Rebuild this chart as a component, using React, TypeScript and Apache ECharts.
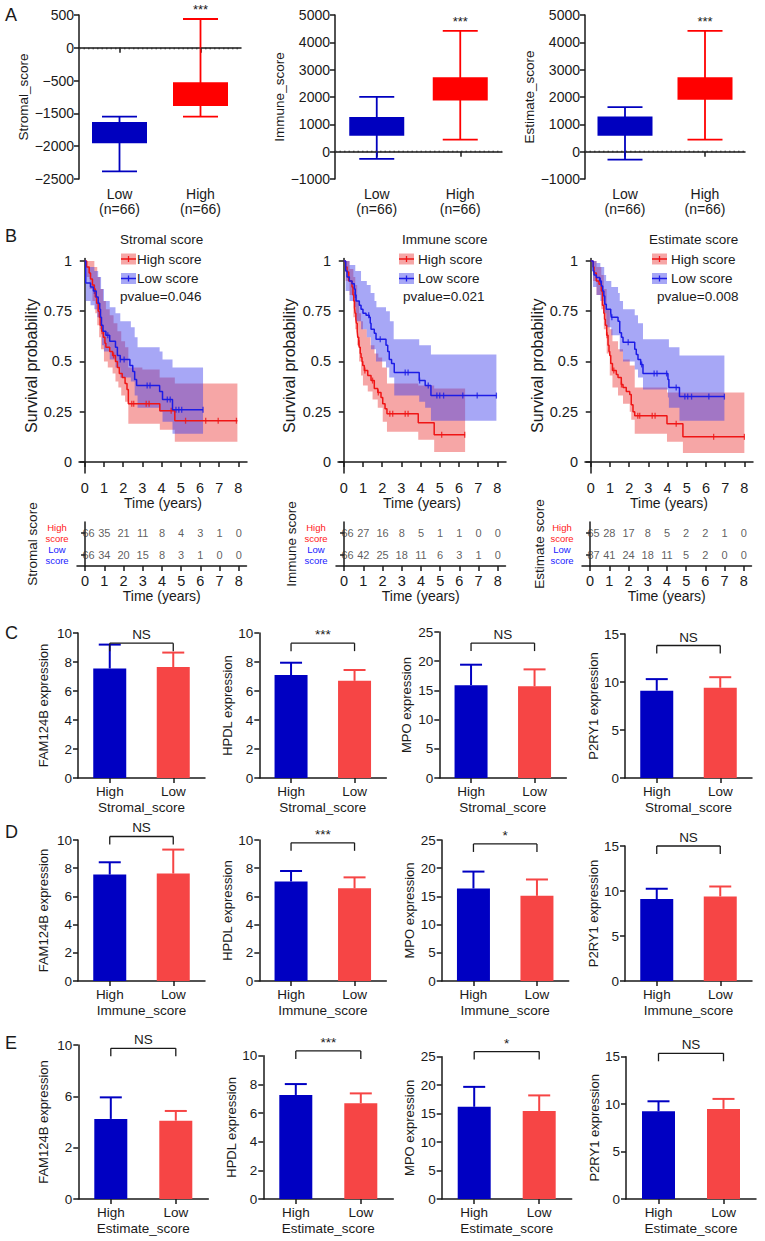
import React, { useEffect, useRef } from "react";
import * as echarts from "echarts";

const FONT = "'Liberation Sans', Arial, Helvetica, sans-serif";
const INK = "#1a1a1a";
const BOX_BLUE = "#0000bf";
const BOX_RED = "#ff0000";
const KM_RED = "#ef1515";
const KM_BLUE = "#1c1ce6";
const BAND_RED = "rgba(235,60,60,0.46)";
const BAND_BLUE = "rgba(60,60,235,0.45)";
const BAR_BLUE = "#0000c2";
const BAR_RED = "#f64545";

// ---------------- Panel A : box plots ----------------
const boxGroups = ["Low\n(n=66)", "High\n(n=66)"];
const boxTitles = ["Stromal_score", "Immune_score", "Estimate_score"];
// [whisker min, Q1, Q3, whisker max]
const stromalLow = [-1883, -1455, -1132, -1050];
const stromalHigh = [-1050, -889, -525, 439];
const immuneLow = [-266, 584, 1266, 2007];
const immuneHigh = [438, 1872, 2726, 4416];
const estimateLow = [-292, 584, 1288, 1631];
const estimateHigh = [438, 1898, 2726, 4416];
const stromalTickLabels = ["500", "0", "\u2212500", "\u22121500", "\u22122000", "\u22122500"]; // as printed, top to bottom
const boxSig = ["***", "***", "***"];

// ---------------- Panel B : Kaplan-Meier ----------------
const kmTitles = ["Stromal score", "Immune score", "Estimate score"];
const kmPvalues = ["pvalue=0.046", "pvalue=0.021", "pvalue=0.008"];
const kmLegend = ["High score", "Low score"];
const kmTicksX = [0, 1, 2, 3, 4, 5, 6, 7, 8];
const kmTicksY = [0, 0.25, 0.5, 0.75, 1];

const stromalHighCurve = [[0, 1], [0.1, 0.97], [0.23, 0.94], [0.3, 0.91], [0.4, 0.88], [0.5, 0.86], [0.55, 0.82], [0.62, 0.79], [0.7, 0.75], [0.76, 0.72], [0.8, 0.68], [0.88, 0.65], [0.97, 0.62], [1.05, 0.59], [1.1, 0.57], [1.3, 0.55], [1.45, 0.53], [1.6, 0.5], [1.7, 0.47], [1.8, 0.44], [1.95, 0.42], [2.1, 0.39], [2.2, 0.36], [2.27, 0.29], [3.91, 0.255], [4.69, 0.205], [7.95, 0.205]];
const stromalLowCurve = [[0, 1], [0.05, 0.89], [0.3, 0.87], [0.45, 0.85], [0.6, 0.82], [0.7, 0.79], [0.78, 0.76], [0.82, 0.72], [0.87, 0.68], [0.95, 0.65], [1.1, 0.63], [1.3, 0.6], [1.6, 0.57], [1.7, 0.53], [1.85, 0.51], [2.35, 0.48], [2.5, 0.45], [2.6, 0.41], [2.7, 0.38], [3.9, 0.35], [4.05, 0.31], [4.57, 0.26], [6.16, 0.26]];
const stromalHighUpper = [[0, 1], [0.5, 0.97], [0.65, 0.92], [0.8, 0.86], [0.95, 0.8], [1.1, 0.76], [1.3, 0.73], [1.5, 0.69], [1.7, 0.65], [1.9, 0.6], [2.1, 0.57], [2.27, 0.47], [3.0, 0.46], [3.9, 0.42], [4.69, 0.39], [7.95, 0.39]];
const stromalHighLower = [[0, 1], [0.1, 0.92], [0.25, 0.86], [0.4, 0.8], [0.55, 0.74], [0.65, 0.68], [0.75, 0.62], [0.85, 0.56], [1.0, 0.5], [1.2, 0.47], [1.45, 0.44], [1.6, 0.4], [1.75, 0.37], [1.9, 0.33], [2.1, 0.3], [2.27, 0.19], [3.91, 0.16], [4.69, 0.1], [7.95, 0.1]];
const stromalLowUpper = [[0, 1], [0.05, 0.97], [0.5, 0.95], [0.7, 0.92], [0.85, 0.86], [1.0, 0.8], [1.3, 0.77], [1.6, 0.74], [1.85, 0.7], [2.4, 0.67], [2.6, 0.62], [2.75, 0.57], [3.9, 0.55], [4.05, 0.51], [4.57, 0.47], [6.16, 0.47]];
const stromalLowLower = [[0, 1], [0.05, 0.8], [0.3, 0.78], [0.5, 0.76], [0.65, 0.72], [0.8, 0.66], [0.9, 0.58], [1.0, 0.55], [1.3, 0.51], [1.6, 0.47], [1.85, 0.42], [2.4, 0.4], [2.6, 0.33], [2.75, 0.27], [3.9, 0.25], [4.05, 0.2], [4.57, 0.14], [6.16, 0.14]];
const stromalHighCensor = [0.9, 1.5, 2.45, 2.55, 3.2, 3.35, 4.5, 5.25, 6.3, 6.95, 7.9];
const stromalLowCensor = [0.5, 1.2, 1.85, 2.05, 3.25, 3.4, 4.3, 4.45, 4.75, 4.9, 5.05, 6.16];

const immuneHighCurve = [[0, 1], [0.09, 0.97], [0.17, 0.945], [0.26, 0.9], [0.43, 0.87], [0.48, 0.83], [0.52, 0.8], [0.56, 0.77], [0.59, 0.74], [0.63, 0.71], [0.66, 0.69], [0.7, 0.65], [0.73, 0.62], [0.78, 0.59], [0.81, 0.57], [0.86, 0.54], [0.9, 0.52], [0.95, 0.5], [0.99, 0.48], [1.07, 0.455], [1.25, 0.43], [1.42, 0.405], [1.59, 0.365], [1.77, 0.345], [1.94, 0.32], [2.03, 0.29], [2.15, 0.265], [2.25, 0.24], [3.88, 0.195], [4.71, 0.135], [6.32, 0.135]];
const immuneLowCurve = [[0, 1], [0.1, 0.95], [0.17, 0.92], [0.29, 0.9], [0.43, 0.887], [0.55, 0.86], [0.6, 0.83], [0.64, 0.8], [0.81, 0.78], [0.9, 0.76], [1.0, 0.74], [1.16, 0.73], [1.33, 0.72], [1.38, 0.69], [1.42, 0.66], [1.59, 0.64], [1.68, 0.61], [2.2, 0.58], [2.29, 0.55], [2.37, 0.51], [2.49, 0.49], [2.63, 0.445], [3.93, 0.405], [4.24, 0.38], [4.54, 0.33], [7.95, 0.33]];
const immuneHighUpper = [[0, 1], [0.3, 0.96], [0.5, 0.92], [0.6, 0.88], [0.7, 0.8], [0.8, 0.74], [0.9, 0.7], [1.0, 0.66], [1.2, 0.62], [1.4, 0.58], [1.6, 0.54], [1.8, 0.52], [2.0, 0.47], [2.25, 0.39], [3.88, 0.38], [4.71, 0.365], [6.32, 0.365]];
const immuneHighLower = [[0, 1], [0.1, 0.9], [0.3, 0.83], [0.5, 0.72], [0.6, 0.66], [0.7, 0.58], [0.8, 0.5], [0.9, 0.43], [1.0, 0.38], [1.25, 0.35], [1.5, 0.31], [1.77, 0.27], [2.03, 0.2], [2.25, 0.15], [3.88, 0.11], [4.71, 0.05], [6.32, 0.05]];
const immuneLowUpper = [[0, 1], [0.3, 0.98], [0.6, 0.95], [0.9, 0.9], [1.2, 0.88], [1.4, 0.84], [1.6, 0.8], [1.7, 0.77], [2.2, 0.75], [2.4, 0.7], [2.6, 0.61], [3.93, 0.58], [4.54, 0.535], [7.95, 0.535]];
const immuneLowLower = [[0, 1], [0.1, 0.85], [0.3, 0.8], [0.55, 0.77], [0.64, 0.7], [0.9, 0.66], [1.2, 0.62], [1.42, 0.56], [1.68, 0.5], [2.2, 0.47], [2.37, 0.42], [2.63, 0.33], [3.93, 0.3], [4.24, 0.27], [4.54, 0.205], [7.95, 0.205]];
const immuneHighCensor = [0.8, 1.1, 1.5, 1.8, 2.4, 2.55, 3.2, 3.35, 5.1, 6.3];
const immuneLowCensor = [0.6, 1.3, 1.9, 3.2, 3.35, 3.95, 4.4, 4.85, 5.0, 5.2, 6.2, 6.95, 7.95];

const estimateHighCurve = [[0, 1], [0.12, 0.97], [0.17, 0.94], [0.29, 0.9], [0.43, 0.884], [0.55, 0.85], [0.61, 0.78], [0.68, 0.74], [0.72, 0.71], [0.76, 0.68], [0.83, 0.63], [0.9, 0.58], [0.95, 0.55], [0.99, 0.53], [1.04, 0.49], [1.13, 0.455], [1.33, 0.435], [1.42, 0.42], [1.59, 0.385], [1.68, 0.37], [1.85, 0.35], [2.03, 0.335], [2.11, 0.285], [2.2, 0.25], [2.29, 0.23], [3.97, 0.19], [4.8, 0.125], [8.0, 0.125]];
const estimateLowCurve = [[0, 1], [0.12, 0.95], [0.17, 0.93], [0.29, 0.917], [0.47, 0.9], [0.55, 0.875], [0.62, 0.85], [0.68, 0.826], [0.73, 0.784], [0.81, 0.76], [1.04, 0.743], [1.07, 0.72], [1.42, 0.7], [1.51, 0.643], [1.6, 0.62], [1.68, 0.595], [2.29, 0.56], [2.37, 0.535], [2.46, 0.51], [2.6, 0.485], [2.72, 0.44], [4.02, 0.41], [4.07, 0.37], [4.62, 0.325], [6.96, 0.325]];
const estimateHighUpper = [[0, 1], [0.3, 0.97], [0.55, 0.93], [0.68, 0.86], [0.83, 0.76], [0.99, 0.66], [1.13, 0.6], [1.42, 0.56], [1.68, 0.51], [2.03, 0.48], [2.29, 0.37], [3.97, 0.345], [8.0, 0.345]];
const estimateHighLower = [[0, 1], [0.12, 0.9], [0.3, 0.83], [0.55, 0.76], [0.68, 0.66], [0.83, 0.54], [0.99, 0.43], [1.13, 0.37], [1.42, 0.33], [1.68, 0.29], [2.03, 0.25], [2.11, 0.21], [2.29, 0.14], [3.97, 0.1], [4.8, 0.045], [8.0, 0.045]];
const estimateLowUpper = [[0, 1], [0.3, 0.99], [0.5, 0.97], [0.7, 0.93], [0.8, 0.9], [1.07, 0.87], [1.42, 0.84], [1.51, 0.8], [1.68, 0.76], [2.29, 0.73], [2.46, 0.69], [2.72, 0.61], [4.07, 0.57], [4.62, 0.53], [6.96, 0.53]];
const estimateLowLower = [[0, 1], [0.12, 0.87], [0.3, 0.83], [0.5, 0.8], [0.68, 0.74], [0.81, 0.67], [1.07, 0.63], [1.51, 0.55], [1.68, 0.5], [2.29, 0.46], [2.46, 0.42], [2.72, 0.36], [4.02, 0.32], [4.07, 0.27], [4.62, 0.205], [6.96, 0.205]];
const estimateHighCensor = [0.85, 1.2, 1.6, 2.45, 2.55, 3.2, 3.35, 4.45, 6.4, 8.0];
const estimateLowCensor = [0.5, 1.1, 1.95, 2.65, 3.3, 3.45, 3.95, 4.45, 4.9, 5.05, 5.25, 6.15, 6.96];

// ---------------- Number-at-risk tables ----------------
const riskTimes = [0, 1, 2, 3, 4, 5, 6, 7, 8];
const riskRows = ["Low", "High"];
const stromalRiskHigh = [66, 35, 21, 11, 8, 4, 3, 1, 0];
const stromalRiskLow = [66, 34, 20, 15, 8, 3, 1, 0, 0];
const immuneRiskHigh = [66, 27, 16, 8, 5, 1, 1, 0, 0];
const immuneRiskLow = [66, 42, 25, 18, 11, 6, 3, 1, 0];
const estimateRiskHigh = [65, 28, 17, 8, 5, 2, 2, 1, 0];
const estimateRiskLow = [87, 41, 24, 18, 11, 5, 2, 0, 0];

// ---------------- Panels C, D, E : bar charts ----------------
const genes = ["FAM124B", "HPDL", "MPO", "P2RY1"];
const barGroups = ["High", "Low"];
const rowScores = ["Stromal_score", "Immune_score", "Estimate_score"];
const geneAxisMax = [10, 10, 25, 15];
const geneAxisStep = [2, 2, 5, 5];
const eFamTickLabels = ["0", "2", "6", "10"]; // as printed on panel E FAM124B axis
// means [High, Low] and error (SD) [High, Low]
const cMeans = [[7.55, 7.65], [7.1, 6.7], [15.9, 15.7], [9.1, 9.4]];
const cErrs = [[1.65, 1.0], [0.85, 0.75], [3.5, 2.9], [1.2, 1.1]];
const cSig = ["NS", "***", "NS", "NS"];
const cBracket = [9.3, 9.3, 23.1, 13.8];
const dMeans = [[7.55, 7.62], [7.06, 6.57], [16.4, 15.1], [9.1, 9.4]];
const dErrs = [[0.87, 1.7], [0.74, 0.78], [3.0, 2.9], [1.15, 1.1]];
const dSig = ["NS", "***", "*", "NS"];
const dBracket = [10.25, 9.8, 24.3, 15.0];
const eMeans = [[3.12, 3.05], [7.26, 6.68], [16.2, 15.45], [9.25, 9.5]];
const eErrs = [[0.84, 0.38], [0.76, 0.69], [3.5, 2.75], [1.05, 1.05]];
const eSig = ["NS", "***", "*", "NS"];
const eBracket = [5.87, 10.33, 25.9, 15.36];

function stepAt(curve: number[][], t: number) {
  let s = curve[0][1];
  for (const p of curve) {
    if (p[0] <= t) s = p[1];
    else break;
  }
  return s;
}

function bandPoints(api: any, upper: number[][], lower: number[][]) {
  const pts: number[][] = [];
  for (let i = 0; i < upper.length; i++) {
    if (i > 0) pts.push(api.coord([upper[i][0], upper[i - 1][1]]));
    pts.push(api.coord([upper[i][0], upper[i][1]]));
  }
  for (let i = lower.length - 1; i >= 0; i--) {
    pts.push(api.coord([lower[i][0], lower[i][1]]));
    if (i > 0) pts.push(api.coord([lower[i][0], lower[i - 1][1]]));
  }
  return pts;
}

function buildOption() {
  const grid: any[] = [];
  const xAxis: any[] = [];
  const yAxis: any[] = [];
  const series: any[] = [];
  const graphic: any[] = [];
  const add = (g: any, x: any, y: any) => {
    const i = grid.length;
    grid.push({ outerBoundsMode: "none", containLabel: false, ...g });
    xAxis.push({ gridIndex: i, ...x });
    yAxis.push({ gridIndex: i, ...y });
    return i;
  };
  const axLine = { show: true, lineStyle: { color: INK, width: 1.5 } };
  const tick = (len: number) => ({ show: true, inside: false, length: len, lineStyle: { color: INK, width: 1.5 } });
  const lbl = (size: number, margin: number) => ({ color: INK, fontSize: size, fontFamily: FONT, margin });
  const nameStyle = (size: number) => ({ color: INK, fontSize: size, fontFamily: FONT });
  const txt = (text: string, x: number, y: number, size: number, color = INK, align = "left") => ({
    type: "text",
    x,
    y,
    silent: true,
    style: { text, fontSize: size, fontFamily: FONT, fill: color, align, verticalAlign: "middle" },
  });

  // Panel letters
  graphic.push(txt("A", 5, 15, 18));
  graphic.push(txt("B", 5, 236, 18));
  graphic.push(txt("C", 5, 633, 18));
  graphic.push(txt("D", 5, 832, 18));
  graphic.push(txt("E", 5, 1043, 18));

  // ---------- A ----------
  const boxSets = [[stromalLow, stromalHigh], [immuneLow, immuneHigh], [estimateLow, estimateHigh]];
  const boxLayout = [
    { left: 79, width: 162, gap: 44 },
    { left: 335, width: 167, gap: 43 },
    { left: 585, width: 160, gap: 45 },
  ];
  boxSets.forEach((set, k) => {
    const L = boxLayout[k];
    const stromal = k === 0;
    const i = add(
      { left: L.left, top: 15, width: L.width, height: 164 },
      {
        type: "category",
        data: boxGroups,
        axisLine: axLine,
        axisTick: { ...tick(5), alignWithLabel: true },
        axisLabel: { ...lbl(14, 7), lineHeight: 15.5 },
      },
      {
        type: "value",
        min: stromal ? -2000 : -1000,
        max: stromal ? 500 : 5000,
        interval: stromal ? 500 : 1000,
        name: boxTitles[k],
        nameLocation: "middle",
        nameGap: L.gap,
        nameTextStyle: nameStyle(13.5),
        axisLine: axLine,
        axisTick: tick(5),
        splitLine: { show: false },
        axisLabel: {
          ...lbl(14, 5),
          formatter: (v: number) =>
            stromal ? stromalTickLabels[Math.round((500 - v) / 500)] : v < 0 ? "\u2212" + Math.abs(v) : String(v),
        },
      }
    );
    const sig = boxSig[k];
    series.push({
      type: "custom",
      xAxisIndex: i,
      yAxisIndex: i,
      clip: false,
      data: set.map((v, c) => [c, v[0], v[1], v[2], v[3]]),
      encode: { x: 0, y: [1, 2, 3, 4] },
      renderItem: (params: any, api: any) => {
        const c = api.value(0);
        const color = c === 0 ? BOX_BLUE : BOX_RED;
        const pMin = api.coord([c, api.value(1)]);
        const pQ1 = api.coord([c, api.value(2)]);
        const pQ3 = api.coord([c, api.value(3)]);
        const pMax = api.coord([c, api.value(4)]);
        const bw = 55;
        const cw = 35;
        const st = { stroke: color, lineWidth: 1.8 };
        const children: any[] = [
          { type: "line", shape: { x1: pMin[0], y1: pMin[1], x2: pMax[0], y2: pMax[1] }, style: st },
          { type: "line", shape: { x1: pMin[0] - cw / 2, y1: pMin[1], x2: pMin[0] + cw / 2, y2: pMin[1] }, style: st },
          { type: "line", shape: { x1: pMax[0] - cw / 2, y1: pMax[1], x2: pMax[0] + cw / 2, y2: pMax[1] }, style: st },
          { type: "rect", shape: { x: pQ3[0] - bw / 2, y: pQ3[1], width: bw, height: pQ1[1] - pQ3[1] }, style: { fill: color } },
        ];
        if (c === 1) {
          children.push({
            type: "text",
            x: pMax[0],
            y: pMax[1] - 3,
            style: { text: sig, fontSize: 13, fontFamily: FONT, fill: INK, align: "center", verticalAlign: "bottom" },
          });
        }
        return { type: "group", children };
      },
      markLine: {
        silent: true,
        symbol: "none",
        label: { show: false },
        lineStyle: { color: "#333", width: 1.3, type: [1.5, 3] },
        data: [{ yAxis: 0 }],
      },
    });
  });

  // ---------- B : KM ----------
  const kmSets = [
    { hc: stromalHighCurve, lc: stromalLowCurve, hu: stromalHighUpper, hl: stromalHighLower, lu: stromalLowUpper, ll: stromalLowLower, hcen: stromalHighCensor, lcen: stromalLowCensor },
    { hc: immuneHighCurve, lc: immuneLowCurve, hu: immuneHighUpper, hl: immuneHighLower, lu: immuneLowUpper, ll: immuneLowLower, hcen: immuneHighCensor, lcen: immuneLowCensor },
    { hc: estimateHighCurve, lc: estimateLowCurve, hu: estimateHighUpper, hl: estimateHighLower, lu: estimateLowUpper, ll: estimateLowLower, hcen: estimateHighCensor, lcen: estimateLowCensor },
  ];
  const kmLayout = [
    { left: 79, gap: 38, titleX: 120, keyX: 121, textX: 137, pX: 120 },
    { left: 338, gap: 41, titleX: 402, keyX: 399, textX: 418, pX: 403 },
    { left: 585, gap: 38, titleX: 649, keyX: 652, textX: 671, pX: 657 },
  ];
  kmSets.forEach((s, k) => {
    const L = kmLayout[k];
    const i = add(
      { left: L.left, top: 258.5, width: 168, height: 214.5 },
      {
        type: "value",
        min: -0.3,
        max: 8.45,
        axisLine: axLine,
        axisTick: { ...tick(5), customValues: kmTicksX },
        axisLabel: { ...lbl(14.5, 7), customValues: kmTicksX },
        splitLine: { show: false },
        name: "Time (years)",
        nameLocation: "middle",
        nameGap: 22,
        nameTextStyle: nameStyle(14),
      },
      {
        type: "value",
        min: -0.055,
        max: 1.012,
        axisLine: axLine,
        axisTick: { ...tick(5), customValues: kmTicksY },
        axisLabel: { ...lbl(14.5, 7), customValues: kmTicksY, formatter: (v: number) => String(v) },
        splitLine: { show: false },
        name: "Survival probability",
        nameLocation: "middle",
        nameGap: L.gap,
        nameTextStyle: nameStyle(16),
      }
    );
    const band = (up: number[][], lo: number[][], fill: string) => ({
      type: "custom",
      xAxisIndex: i,
      yAxisIndex: i,
      silent: true,
      data: [[0, 0]],
      renderItem: (p: any, api: any) => ({ type: "polygon", shape: { points: bandPoints(api, up, lo) }, style: { fill } }),
    });
    series.push(band(s.hu, s.hl, BAND_RED));
    series.push(band(s.lu, s.ll, BAND_BLUE));
    const curve = (data: number[][], color: string) => ({
      type: "line",
      xAxisIndex: i,
      yAxisIndex: i,
      step: "end",
      symbol: "none",
      silent: true,
      data,
      lineStyle: { color, width: 1.5 },
    });
    series.push(curve(s.hc, KM_RED));
    series.push(curve(s.lc, KM_BLUE));
    const cens = (times: number[], c: number[][], color: string) => ({
      type: "scatter",
      xAxisIndex: i,
      yAxisIndex: i,
      silent: true,
      symbol: "rect",
      symbolSize: [1.3, 6],
      itemStyle: { color },
      data: times.map((t) => [t, stepAt(c, t)]),
    });
    series.push(cens(s.hcen, s.hc, KM_RED));
    series.push(cens(s.lcen, s.lc, KM_BLUE));

    // legend
    graphic.push(txt(kmTitles[k], L.titleX, 239.5, 13.5));
    const rows = [
      { y: 259, band: BAND_RED, line: KM_RED, label: kmLegend[0] },
      { y: 278.5, band: BAND_BLUE, line: KM_BLUE, label: kmLegend[1] },
    ];
    rows.forEach((r) => {
      graphic.push({ type: "rect", silent: true, shape: { x: L.keyX, y: r.y - 5.5, width: 15, height: 11 }, style: { fill: r.band } });
      graphic.push({ type: "line", silent: true, shape: { x1: L.keyX, y1: r.y, x2: L.keyX + 15, y2: r.y }, style: { stroke: r.line, lineWidth: 1.5 } });
      graphic.push({ type: "line", silent: true, shape: { x1: L.keyX + 7.5, y1: r.y - 3, x2: L.keyX + 7.5, y2: r.y + 3 }, style: { stroke: r.line, lineWidth: 1.3 } });
      graphic.push(txt(r.label, L.textX, r.y, 13.5));
    });
    graphic.push(txt(kmPvalues[k], L.pX, 296.5, 13.5));
  });

  // ---------- risk tables ----------
  const riskSets = [
    [stromalRiskHigh, stromalRiskLow],
    [immuneRiskHigh, immuneRiskLow],
    [estimateRiskHigh, estimateRiskLow],
  ];
  const riskLayout = [
    { left: 77, gap: 38 },
    { left: 336, gap: 38 },
    { left: 582, gap: 35 },
  ];
  riskSets.forEach((set, k) => {
    const L = riskLayout[k];
    const i = add(
      { left: L.left, top: 522, width: 169.5, height: 44 },
      {
        type: "value",
        min: -0.42,
        max: 8.4,
        axisLine: axLine,
        axisTick: { ...tick(5), customValues: riskTimes },
        axisLabel: { ...lbl(14.5, 7), customValues: riskTimes },
        splitLine: { show: false },
        name: "Time (years)",
        nameLocation: "middle",
        nameGap: 22,
        nameTextStyle: nameStyle(14),
      },
      {
        type: "category",
        data: riskRows,
        axisLine: axLine,
        axisTick: { ...tick(4), alignWithLabel: true },
        axisLabel: {
          margin: 20,
          align: "center",
          formatter: (v: string) => (v === "High" ? "{h|High}\n{h|score}" : "{l|Low}\n{l|score}"),
          rich: {
            h: { color: "#ff2020", fontSize: 9.5, lineHeight: 11, fontFamily: FONT, align: "center" },
            l: { color: "#2020ff", fontSize: 9.5, lineHeight: 11, fontFamily: FONT, align: "center" },
          },
        },
        name: kmTitles[k],
        nameLocation: "middle",
        nameGap: L.gap,
        nameTextStyle: nameStyle(13.5),
      }
    );
    const row = (vals: number[], cat: string) => ({
      type: "scatter",
      xAxisIndex: i,
      yAxisIndex: i,
      silent: true,
      symbolSize: 1,
      itemStyle: { color: "rgba(0,0,0,0)" },
      label: { show: true, position: "inside", formatter: (p: any) => String(p.value[2]), fontSize: 11, fontFamily: FONT, color: "#333" },
      data: riskTimes.map((t, j) =>
        j === 0 ? { value: [t, cat, vals[j]], label: { offset: [3.5, 0] } } : { value: [t, cat, vals[j]] }
      ),
    });
    series.push(row(set[0], "High"));
    series.push(row(set[1], "Low"));
  });

  // ---------- C, D, E ----------
  const rowsData = [
    { means: cMeans, errs: cErrs, sig: cSig, br: cBracket },
    { means: dMeans, errs: dErrs, sig: dSig, br: dBracket },
    { means: eMeans, errs: eErrs, sig: eSig, br: eBracket },
  ];
  const rowLayout = [
    { tops: [633, 633, 632, 634], bottom: 778, lefts: [78, 259.3, 439.3, 625], width: 127 },
    { tops: [840, 840, 840, 846], bottom: 981, lefts: [78, 259.3, 441.7, 625], width: 127 },
    { tops: [1045, 1055.7, 1056.7, 1056.7], bottom: 1199, lefts: [78.3, 263.3, 441.7, 626], width: 130 },
  ];
  const nameGaps = [28, 23, 26, 25];
  rowsData.forEach((R, r) => {
    const RL = rowLayout[r];
    genes.forEach((g, gi) => {
      const eFam = r === 2 && gi === 0;
      const i = add(
        { left: RL.lefts[gi], top: RL.tops[gi], width: RL.width, height: RL.bottom - RL.tops[gi] },
        {
          type: "category",
          data: barGroups,
          axisLine: axLine,
          axisTick: { ...tick(5), alignWithLabel: true },
          axisLabel: lbl(13.5, 6),
          name: rowScores[r],
          nameLocation: "middle",
          nameGap: 22,
          nameTextStyle: nameStyle(13.5),
        },
        {
          type: "value",
          min: 0,
          max: eFam ? 6 : geneAxisMax[gi],
          interval: eFam ? 2 : geneAxisStep[gi],
          axisLine: axLine,
          axisTick: tick(5),
          splitLine: { show: false },
          axisLabel: { ...lbl(13.5, 6), formatter: (v: number) => (eFam ? eFamTickLabels[Math.round(v / 2)] : String(v)) },
          name: g + " expression",
          nameLocation: "middle",
          nameGap: nameGaps[gi],
          nameTextStyle: nameStyle(13),
        }
      );
      const m = R.means[gi];
      const e = R.errs[gi];
      series.push({
        type: "bar",
        xAxisIndex: i,
        yAxisIndex: i,
        silent: true,
        barWidth: 33,
        data: [
          { value: m[0], itemStyle: { color: BAR_BLUE } },
          { value: m[1], itemStyle: { color: BAR_RED } },
        ],
      });
      series.push({
        type: "custom",
        xAxisIndex: i,
        yAxisIndex: i,
        silent: true,
        clip: false,
        data: [[0, m[0], e[0]], [1, m[1], e[1]]],
        encode: { x: 0, y: 1 },
        renderItem: (p: any, api: any) => {
          const c = api.value(0);
          const p0 = api.coord([c, api.value(1)]);
          const p1 = api.coord([c, api.value(1) + api.value(2)]);
          const color = c === 0 ? BAR_BLUE : BAR_RED;
          const st = { stroke: color, lineWidth: 2 };
          return {
            type: "group",
            children: [
              { type: "line", shape: { x1: p0[0], y1: p0[1], x2: p1[0], y2: p1[1] }, style: st },
              { type: "line", shape: { x1: p1[0] - 11, y1: p1[1], x2: p1[0] + 11, y2: p1[1] }, style: st },
            ],
          };
        },
      });
      const sig = R.sig[gi];
      series.push({
        type: "custom",
        xAxisIndex: i,
        yAxisIndex: i,
        silent: true,
        clip: false,
        data: [[0, R.br[gi]]],
        encode: { x: 0, y: 1 },
        renderItem: (p: any, api: any) => {
          const y = api.value(1);
          const a = api.coord([0, y]);
          const b = api.coord([1, y]);
          const st = { stroke: INK, lineWidth: 1.3 };
          return {
            type: "group",
            children: [
              { type: "line", shape: { x1: a[0], y1: a[1], x2: b[0], y2: b[1] }, style: st },
              { type: "line", shape: { x1: a[0], y1: a[1], x2: a[0], y2: a[1] + 8 }, style: st },
              { type: "line", shape: { x1: b[0], y1: b[1], x2: b[0], y2: b[1] + 8 }, style: st },
              {
                type: "text",
                x: (a[0] + b[0]) / 2,
                y: a[1] - 1.5,
                style: { text: sig, fontSize: 13.5, fontFamily: FONT, fill: INK, align: "center", verticalAlign: "bottom" },
              },
            ],
          };
        },
      });
    });
  });

  return {
    animation: false,
    backgroundColor: "#ffffff",
    textStyle: { fontFamily: FONT },
    grid,
    xAxis,
    yAxis,
    series,
    graphic,
  };
}

export default function App() {
  const ref = useRef<HTMLDivElement>(null);
  useEffect(() => {
    if (!ref.current) return;
    const chart = echarts.init(ref.current, null, { renderer: "svg" });
    chart.setOption(buildOption() as any);
    return () => chart.dispose();
  }, []);
  return (
    <div
      ref={ref}
      style={{ position: "absolute", left: 0, top: 0, width: 765, height: 1241, background: "#fff" }}
    />
  );
}
